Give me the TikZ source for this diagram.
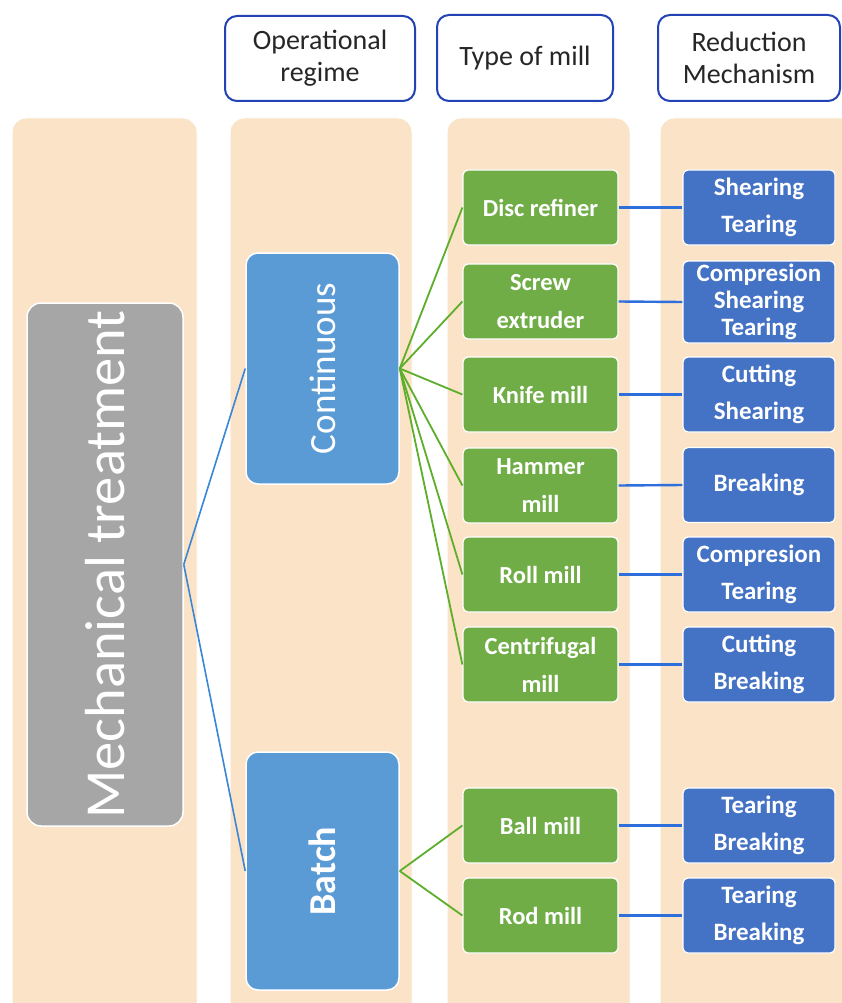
\documentclass[tikz,border=0pt]{standalone}
\usepackage{fontspec}
\setmainfont{Carlito}
\definecolor{panelc}{HTML}{FAE3C6}
\definecolor{headc}{HTML}{2342B5}
\definecolor{grayc}{HTML}{A6A6A6}
\definecolor{regc}{HTML}{5B9BD5}
\definecolor{millc}{HTML}{70AD47}
\definecolor{mechc}{HTML}{4472C4}
\definecolor{linea}{HTML}{3A86D6}
\definecolor{lineb}{HTML}{5DAE2B}
\definecolor{linec}{HTML}{2E6FDB}
\tikzset{
  panelbox/.style={fill=panelc, draw=white, line width=1pt, rounded corners=14pt, inner sep=0pt},
  headbox/.style={fill=white, draw=headc, line width=2pt, rounded corners=12pt, inner sep=0pt, align=center, text=black!85, font=\fontsize{28}{32}\selectfont},
  graybox/.style={fill=grayc, draw=white, line width=1.5pt, rounded corners=14pt, inner sep=0pt, text=white},
  regbox/.style={fill=regc, draw=white, line width=1.5pt, rounded corners=12pt, inner sep=0pt, text=white},
  millbox/.style={fill=millc, draw=white, line width=1.2pt, rounded corners=5pt, inner sep=0pt, text=white, align=center, minimum width=155pt, minimum height=75pt, font=\bfseries\fontsize{24.5}{38}\selectfont},
  mechbox/.style={fill=mechc, draw=white, line width=1.2pt, rounded corners=5pt, inner sep=0pt, text=white, align=center, minimum width=152pt, minimum height=75pt, font=\bfseries\fontsize{25}{37}\selectfont},
  conna/.style={draw=linea, line width=1.6pt},
  connb/.style={draw=lineb, line width=1.8pt},
  connc/.style={draw=linec, line width=2.4pt},
}
\begin{document}
\begin{tikzpicture}[x=1pt,y=-1pt]
\useasboundingbox (0,0) rectangle (842,1003);
\fill[white] (0,0) rectangle (842,1003);
% panels
\node[panelbox, minimum width=185pt, minimum height=902pt] (p1) at (104.5,569) {};
\node[panelbox, minimum width=182pt, minimum height=902pt] (p2) at (321,569) {};
\node[panelbox, minimum width=183pt, minimum height=902pt] (p3) at (538.5,569) {};
\node[panelbox, minimum width=195pt, minimum height=902pt] (p4) at (757.5,569) {};
% headers
\node[headbox, minimum width=190pt, minimum height=85pt] (h1) at (320,58.5) {Operational\\regime};
\node[headbox, minimum width=176pt, minimum height=86pt] (h2) at (525,58) {Type of mill};
\node[headbox, minimum width=182pt, minimum height=86pt] (h3) at (749,58) {Reduction\\Mechanism};
% main
\node[graybox, minimum width=156pt, minimum height=523pt] (mt) at (105,564.5) {};
\node[text=white, rotate=90, font=\fontsize{56.5}{60}\selectfont] (mtt) at (mt.center) {Mechanical treatment};
% regimes
\node[regbox, minimum width=153pt, minimum height=231pt] (cont) at (322.5,368.5) {};
\node[text=white, rotate=90, font=\fontsize{37}{40}\selectfont] (contt) at (cont.center) {Continuous};
\node[regbox, minimum width=153pt, minimum height=238pt] (batch) at (322.5,871) {};
\node[text=white, rotate=90, font=\bfseries\fontsize{38}{40}\selectfont] (batcht) at (batch.center) {Batch};
% mills
\node[millbox] (m1) at (540.5,207.5) {Disc refiner};
\node[millbox] (m2) at (540.5,301.5) {Screw\\extruder};
\node[millbox] (m3) at (540.5,394.5) {Knife mill};
\node[millbox] (m4) at (540.5,485.5) {Hammer\\mill};
\node[millbox] (m5) at (540.5,574.5) {Roll mill};
\node[millbox] (m6) at (540.5,664.5) {Centrifugal\\mill};
\node[millbox] (m7) at (540.5,825.5) {Ball mill};
\node[millbox] (m8) at (540.5,915.5) {Rod mill};
% mechanisms
\node[mechbox] (r1) at (759,207.5) {Shearing\\Tearing};
\node[mechbox, minimum height=82pt, font=\bfseries\fontsize{25}{27}\selectfont] (r2) at (759,302) {Compresion\\Shearing\\Tearing};
\node[mechbox] (r3) at (759,394.5) {Cutting\\Shearing};
\node[mechbox] (r4) at (759,485) {Breaking};
\node[mechbox] (r5) at (759,574.5) {Compresion\\Tearing};
\node[mechbox] (r6) at (759,664.5) {Cutting\\Breaking};
\node[mechbox] (r7) at (759,825.5) {Tearing\\Breaking};
\node[mechbox] (r8) at (759,915.5) {Tearing\\Breaking};
% connectors
\draw[conna] (mt.east) -- (cont.west);
\draw[conna] (mt.east) -- (batch.west);
\foreach \m in {m1,m2,m3,m4,m5,m6} \draw[connb] (cont.east) -- (\m.west);
\foreach \m in {m7,m8} \draw[connb] (batch.east) -- (\m.west);
\foreach \i in {1,...,8} \draw[connc] (m\i.east) -- (r\i.west);
\end{tikzpicture}
\end{document}
